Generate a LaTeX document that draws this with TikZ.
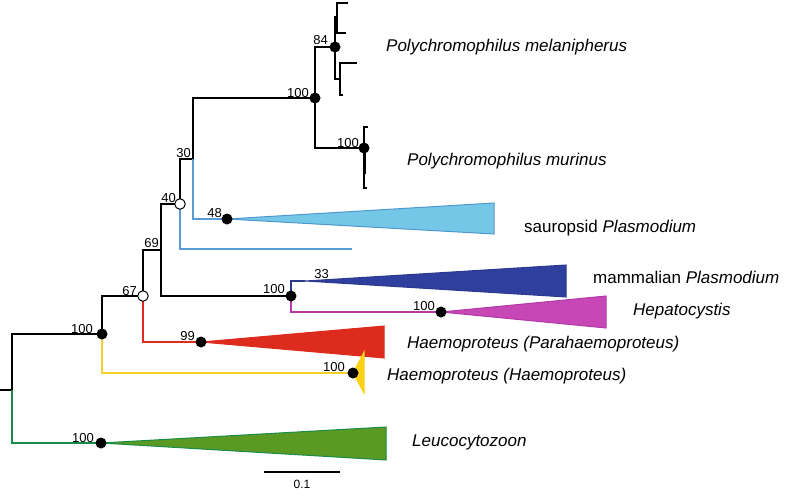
\documentclass[tikz,border=0pt]{standalone}
\usepackage{fontspec}
\setmainfont{Liberation Sans}
\definecolor{skyfill}{HTML}{74C7E6}
\definecolor{skyline}{HTML}{4F97CF}
\definecolor{sblue}{HTML}{5B9BD5}
\definecolor{dbluefill}{HTML}{2F3F9E}
\definecolor{dblueline}{HTML}{2B3990}
\definecolor{magfill}{HTML}{C647B5}
\definecolor{magline}{HTML}{B23AA8}
\definecolor{redc}{HTML}{DD2B1E}
\definecolor{yelfill}{HTML}{FCD116}
\definecolor{yelline}{HTML}{F5CF2B}
\definecolor{grnfill}{HTML}{5A9A22}
\definecolor{grnline}{HTML}{1A8B47}
\tikzset{
  br/.style={line width=1.5pt},
  tri/.style={line width=1pt, line join=miter},
  fdot/.style={circle, fill=black, inner sep=0pt, minimum size=11pt},
  odot/.style={circle, draw=black, fill=white, line width=1pt, inner sep=0pt, minimum size=10.5pt},
  sup/.style={font=\fontsize{13pt}{14pt}\selectfont, inner sep=0pt, anchor=base east},
  taxon/.style={font=\fontsize{17pt}{19pt}\selectfont, inner sep=0pt, anchor=base west},
}
\begin{document}
\begin{tikzpicture}[x=1pt,y=-1pt]
\useasboundingbox (0,0) rectangle (785,490);
% coordinates
\coordinate (R0) at (0,390);
\coordinate (R) at (12,390);
\coordinate (A) at (102,334);
\coordinate (G) at (101,443);
\coordinate (N67) at (143,296);
\coordinate (Y) at (353,373);
\coordinate (N69) at (161,250);
\coordinate (Pa) at (201,342);
\coordinate (N40) at (180,204);
\coordinate (Mm) at (291,296);
\coordinate (N30) at (193,159);
\coordinate (Bl) at (352,249);
\coordinate (P) at (315,98);
\coordinate (S48) at (227,219);
\coordinate (P84) at (335,47);
\coordinate (P100) at (364,148);
\coordinate (Q1) at (337,17);
\coordinate (Q2) at (340,79);
\coordinate (L1) at (348,3);
\coordinate (L2) at (346,33);
\coordinate (L3) at (357,63);
\coordinate (L4) at (343,95);
\coordinate (L5) at (368,127);
\coordinate (L6) at (367,188);
\coordinate (L7) at (364,174);
\coordinate (Mb) at (305,281);
\coordinate (H) at (441,312);
% branches
\draw[br] (R0) -- (R);
\draw[br] (R) |- (A);
\draw[br, grnline] (R) |- (G);
\draw[br] (A) |- (N67);
\draw[br, yelline] (A) |- (Y);
\draw[br] (N67) |- (N69);
\draw[br, redc] (N67) |- (Pa);
\draw[br] (N69) |- (N40);
\draw[br] (N69) |- (Mm);
\draw[br] (N40) |- (N30);
\draw[br, sblue] (N40) |- (Bl);
\draw[br] (N30) |- (P);
\draw[br, sblue] (N30) |- (S48);
\draw[br] (P) |- (P84);
\draw[br] (P) |- (P100);
\draw[br] (P84) |- (Q1);
\draw[br] (P84) |- (Q2);
\draw[br] (Q1) |- (L1);
\draw[br] (Q1) |- (L2);
\draw[br] (Q2) |- (L3);
\draw[br] (Q2) |- (L4);
\draw[br] (P100) |- (L5);
\draw[br] (P100) |- (L6);
\draw[line width=3pt] (P100) -- (L7);
\draw[br, dblueline] (Mm) |- (Mb);
\draw[br, magline] (Mm) |- (H);
% collapsed clades
\filldraw[tri, fill=skyfill, draw=skyline] (S48) -- (494,203) -- (494,234) -- cycle;
\filldraw[tri, fill=dbluefill, draw=dblueline] (Mb) -- (566,265) -- (566,297) -- cycle;
\filldraw[tri, fill=magfill, draw=magline] (H) -- (606,296) -- (606,328) -- cycle;
\filldraw[tri, fill=redc, draw=redc] (Pa) -- (384,326) -- (384,358) -- cycle;
\filldraw[tri, fill=yelfill, draw=yelfill] (Y) -- (364,352) -- (364,393) -- cycle;
\filldraw[tri, fill=grnfill, draw=grnline] (G) -- (386,427) -- (386,460) -- cycle;
% node markers
\node[fdot] (dA) at (A) {};
\node[fdot] (dG) at (G) {};
\node[odot] (d67) at (N67) {};
\node[fdot] (dY) at (Y) {};
\node[fdot] (dPa) at (Pa) {};
\node[odot] (d40) at (N40) {};
\node[fdot] (dMm) at (Mm) {};
\node[fdot] (dS48) at (S48) {};
\node[fdot] (dP) at (P) {};
\node[fdot] (dP84) at (P84) {};
\node[fdot] (dP100) at (P100) {};
\node[fdot] (dH) at (H) {};
% support values
\node[sup] (s84) at (328,44) {84};
\node[sup] (sP) at (309,97) {100};
\node[sup] (sP100) at (359,147) {100};
\node[sup] (s30) at (191,157) {30};
\node[sup] (s40) at (176,202) {40};
\node[sup] (s48) at (222,217) {48};
\node[sup] (s69) at (159,247) {69};
\node[sup] (s67) at (137,295) {67};
\node[sup] (sA) at (93,333) {100};
\node[sup] (s99) at (195,340) {99};
\node[sup] (sY) at (345,371) {100};
\node[sup] (sG) at (94,442) {100};
\node[sup] (s33) at (329,278) {33};
\node[sup] (sH) at (435,310) {100};
\node[sup] (sMm) at (285,293) {100};
% taxon labels
\node[taxon] (t1) at (386,51) {\itshape Polychromophilus melanipherus};
\node[taxon] (t2) at (407,165) {\itshape Polychromophilus murinus};
\node[taxon] (t3) at (524,232) {sauropsid \itshape Plasmodium};
\node[taxon] (t4) at (593,283) {mammalian \itshape Plasmodium};
\node[taxon] (t5) at (633,315) {\itshape Hepatocystis};
\node[taxon] (t6) at (407,348) {\itshape Haemoproteus (Parahaemoproteus)};
\node[taxon] (t7) at (387,380) {\itshape Haemoproteus (Haemoproteus)};
\node[taxon] (t8) at (412,446) {\itshape Leucocytozoon};
% scale bar
\coordinate (sb1) at (264,472);
\coordinate (sb2) at (340,472);
\draw[line width=1.5pt] (sb1) -- (sb2);
\node[font=\fontsize{12pt}{13pt}\selectfont, inner sep=0pt, anchor=base] (sbl) at (302,488) {0.1};
\end{tikzpicture}
\end{document}
